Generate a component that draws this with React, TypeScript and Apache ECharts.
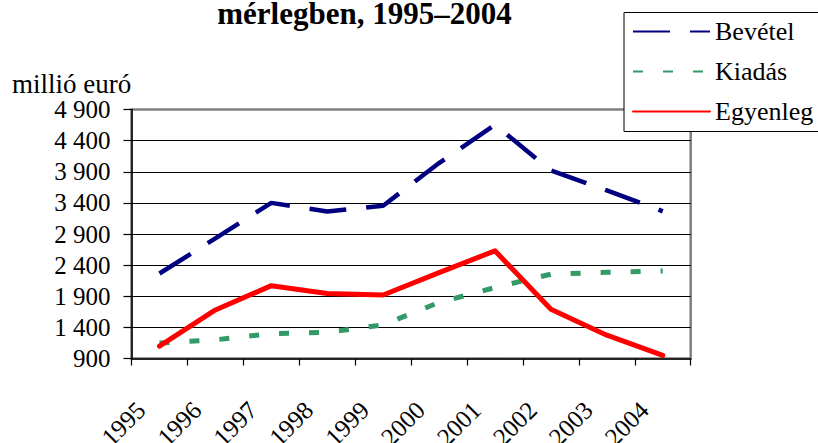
import React, { useEffect, useRef } from 'react';
import * as echarts from 'echarts';

const years = ['1995', '1996', '1997', '1998', '1999', '2000', '2001', '2002', '2003', '2004'];
const bevetel = [2265, 2830, 3400, 3260, 3355, 4040, 4655, 3920, 3600, 3265];
const kiadas = [1150, 1200, 1300, 1320, 1440, 1800, 2040, 2255, 2285, 2305];
const egyenleg = [1100, 1680, 2070, 1945, 1920, 2280, 2630, 1690, 1275, 950];
const seriesNames = ['Bevétel', 'Kiadás', 'Egyenleg'];
const yMin = 900;
const yMax = 4900;
const yStep = 500;
const titleText = 'mérlegben, 1995–2004';
const unitText = 'millió euró';

const font = 'Liberation Serif';

function fmt(v: number): string {
  if (v >= 1000) {
    const th = Math.floor(v / 1000);
    const rest = String(v % 1000).padStart(3, '0');
    return th + ' ' + rest;
  }
  return String(v);
}

export default function App() {
  const ref = useRef<HTMLDivElement>(null);
  useEffect(() => {
    document.body.style.margin = '0';
    const chart = echarts.init(ref.current!, null, { renderer: 'svg' });
    chart.setOption({
      animation: false,
      backgroundColor: '#ffffff',
      textStyle: { fontFamily: font },
      grid: {
        left: 131.5,
        right: 127.3,
        top: 109.5,
        bottom: 84.5,
        show: true,
        borderColor: '#808080',
        borderWidth: 2.5,
        backgroundColor: 'transparent',
        containLabel: false,
        outerBoundsMode: 'none',
      },
      xAxis: {
        type: 'category',
        data: years,
        boundaryGap: true,
        axisLine: { show: true, lineStyle: { color: '#000', width: 1.5 } },
        axisTick: { show: true, length: 7, interval: 0, lineStyle: { color: '#000', width: 1.2 } },
        axisLabel: {
          interval: 0,
          rotate: 45,
          margin: 29,
          fontSize: 25,
          color: '#000',
          fontFamily: font,
          padding: [0, 26, 0, 0],
          hideOverlap: false,
        },
        splitLine: { show: false },
      },
      yAxis: {
        type: 'value',
        min: yMin,
        max: yMax,
        interval: yStep,
        axisLine: { show: true, lineStyle: { color: '#000', width: 1.5 } },
        axisTick: { show: true, length: 8, lineStyle: { color: '#000', width: 1.2 } },
        axisLabel: { margin: 21, fontSize: 25, color: '#000', fontFamily: font, formatter: (v: number) => fmt(v) },
        splitLine: {
          show: true,
          showMinLine: false,
          showMaxLine: false,
          lineStyle: { color: '#000', width: 1 },
        },
      },
      legend: {
        orient: 'vertical',
        left: 624,
        top: 12.5,
        itemWidth: 77,
        itemHeight: 14,
        itemGap: 14,
        padding: [6, 30, 7, 8],
        borderColor: '#000',
        borderWidth: 1,
        backgroundColor: '#fff',
        textStyle: { fontSize: 26, color: '#000', fontFamily: font },
        itemStyle: { opacity: 0 },
        data: seriesNames,
      },
      graphic: [
        {
          type: 'text',
          x: 364.5,
          y: 13.5,
          style: {
            text: titleText,
            fontFamily: font,
            fontWeight: 'bold',
            fontSize: 31,
            fill: '#000',
            textAlign: 'center',
            textVerticalAlign: 'middle',
          },
        },
        {
          type: 'text',
          x: 12,
          y: 84,
          style: {
            text: unitText,
            fontFamily: font,
            fontSize: 27,
            fill: '#000',
            textAlign: 'left',
            textVerticalAlign: 'middle',
          },
        },
      ],
      series: [
        {
          name: seriesNames[0],
          type: 'line',
          data: bevetel,
          symbol: 'none',
          lineStyle: { color: '#000080', width: 4.5, type: [37, 20], cap: 'butt' },
          itemStyle: { color: '#000080' },
        },
        {
          name: seriesNames[1],
          type: 'line',
          data: kiadas,
          symbol: 'none',
          lineStyle: { color: '#339966', width: 5, type: [10, 20], cap: 'butt' },
          itemStyle: { color: '#339966' },
        },
        {
          name: seriesNames[2],
          type: 'line',
          data: egyenleg,
          symbol: 'none',
          lineStyle: { color: '#ff0000', width: 5, cap: 'round', join: 'round' },
          itemStyle: { color: '#ff0000' },
        },
      ],
    });
    return () => chart.dispose();
  }, []);
  return <div ref={ref} style={{ width: 818, height: 443 }} />;
}
